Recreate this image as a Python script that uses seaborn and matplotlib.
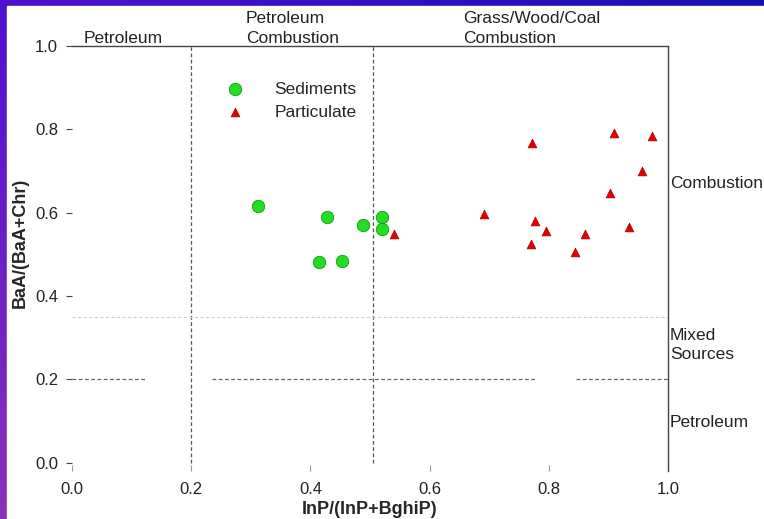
import numpy as np
import pandas as pd
import matplotlib
matplotlib.use('Agg')
import matplotlib.pyplot as plt
import seaborn as sns

# values
sed_x = [0.312, 0.428, 0.488, 0.520, 0.520, 0.414, 0.453]
sed_y = [0.616, 0.590, 0.571, 0.590, 0.561, 0.482, 0.484]
part_x = [0.540, 0.691, 0.772, 0.909, 0.973, 0.956, 0.903, 0.777, 0.795, 0.861, 0.935, 0.770, 0.844]
part_y = [0.549, 0.597, 0.767, 0.791, 0.784, 0.700, 0.648, 0.580, 0.556, 0.549, 0.566, 0.525, 0.506]
x_ticks = [0.0, 0.2, 0.4, 0.6, 0.8, 1.0]
y_ticks = [0.0, 0.2, 0.4, 0.6, 0.8, 1.0]
x_bounds = [0.2, 0.505]
y_bounds = [0.2, 0.35]
# the 0.2 line is broken in the original scan
y02_pieces = [(0.0, 0.125), (0.235, 0.78), (0.845, 1.0)]
top_labels = ['Petroleum', 'Petroleum\nCombustion', 'Grass/Wood/Coal\nCombustion']
top_label_x = [0.02, 0.292, 0.656]
right_labels = ['Combustion', 'Mixed\nSources', 'Petroleum']
right_label_y = [0.671, 0.283, 0.096]

sed = pd.DataFrame({'x': sed_x, 'y': sed_y})
part = pd.DataFrame({'x': part_x, 'y': part_y})

sns.set_style('white')
plt.rcParams['font.family'] = ['Liberation Sans', 'DejaVu Sans']

fig = plt.figure(figsize=(7.64, 5.19), dpi=100)

# slide-like purple border
bg = fig.add_axes([0, 0, 1, 1], zorder=-10)
u = np.linspace(0, 1, 64)[None, :, None]
v = np.linspace(0, 1, 64)[:, None, None]
tl = np.array([0x50, 0x10, 0xd0]) / 255
tr = np.array([0x18, 0x10, 0xb0]) / 255
bl = np.array([0x8a, 0x30, 0xb8]) / 255
grad = np.clip(tl + (tr - tl) * u + (bl - tl) * v, 0, 1)
bg.imshow(grad, aspect='auto', extent=[0, 1, 0, 1])
bg.add_patch(plt.Rectangle((7 / 764, 0), 1, 1 - 6 / 519, color='white'))
bg.set_xlim(0, 1)
bg.set_ylim(0, 1)
bg.axis('off')

ax = fig.add_axes([72 / 764, 48 / 519, 596 / 764, 425 / 519])
ax.set_facecolor('none')

sns.scatterplot(data=sed, x='x', y='y', ax=ax, marker='o', s=80, color='#22dd22',
                edgecolor='#119911', linewidth=0.6, label='Sediments', zorder=5)
sns.scatterplot(data=part, x='x', y='y', ax=ax, marker='^', s=40, color='#e00000',
                edgecolor='#b00000', linewidth=0.5, label='Particulate', zorder=5)

# boundary lines
for xb in x_bounds:
    ax.plot([xb, xb], [0, 1], ls=(0, (3, 2)), color='#555555', lw=0.9)
for x0, x1 in y02_pieces:
    ax.plot([x0, x1], [y_bounds[0]] * 2, ls=(0, (3, 2)), color='#666666', lw=0.9)
ax.plot([0, 1], [y_bounds[1]] * 2, ls=(0, (3, 2)), color='#d0d0d0', lw=0.8)

ax.set_xlim(0, 1)
ax.set_ylim(-0.02, 1.0)
ax.set_xticks(x_ticks)
ax.set_yticks(y_ticks)
ax.set_xticklabels([f'{t:.1f}' for t in x_ticks])
ax.set_yticklabels([f'{t:.1f}' for t in y_ticks])
for s in ['left', 'bottom']:
    ax.spines[s].set_visible(False)
for s in ['top', 'right']:
    ax.spines[s].set_visible(True)
    ax.spines[s].set_color('#444444')
    ax.spines[s].set_linewidth(1.0)
ax.tick_params(axis='both', labelsize=12, colors='#222222')
ax.tick_params(axis='x', direction='in', length=4, color='#999999', pad=8)
ax.tick_params(axis='y', direction='out', length=4, color='#444444', pad=6, left=True)
ax.tick_params(axis='x', bottom=True)

ax.set_xlabel('InP/(InP+BghiP)', fontsize=13, fontweight='bold', labelpad=3)
ax.set_ylabel('BaA/(BaA+Chr)', fontsize=13, fontweight='bold')
ax.yaxis.set_label_coords(-0.072, 0.536)

for lbl, xl in zip(top_labels, top_label_x):
    ax.text(xl, 1.001, lbl, fontsize=12.5, ha='left', va='bottom', color='#222222',
            linespacing=1.35, clip_on=False)
for lbl, yl in zip(right_labels, right_label_y):
    ax.text(1.003, yl, lbl, fontsize=12.5, ha='left', va='center', color='#222222',
            linespacing=1.35, clip_on=False)

ax.legend(loc='upper left', bbox_to_anchor=(0.232, 0.933), frameon=False, fontsize=12.5,
          handletextpad=1.3, labelspacing=0.45, borderaxespad=0)

fig.savefig('out.png', dpi=100)
